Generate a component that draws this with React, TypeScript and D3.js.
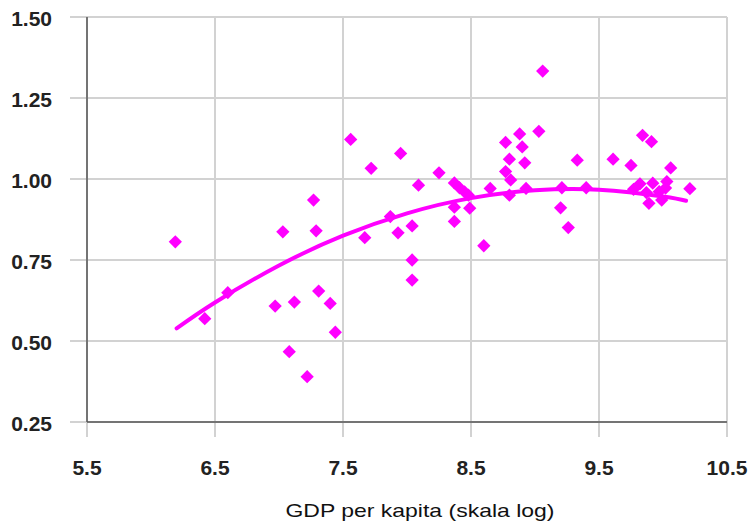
import React from "react";
import * as d3 from "d3";

const xTicks = [5.5, 6.5, 7.5, 8.5, 9.5, 10.5];
const yTicks = [0.25, 0.5, 0.75, 1.0, 1.25, 1.5];

const pointX = [
  6.19, 6.42, 6.6, 6.97, 7.03, 7.08, 7.12, 7.22, 7.27, 7.29, 7.31, 7.4, 7.44,
  7.56, 7.67, 7.72, 7.87, 7.93, 7.95, 8.04, 8.04, 8.04, 8.09, 8.25, 8.37, 8.41,
  8.45, 8.48, 8.37, 8.49, 8.37, 8.6, 8.65, 8.8, 8.77, 8.81, 8.8, 8.77, 8.88,
  8.9, 8.92, 8.93, 9.03, 9.06, 9.2, 9.21, 9.26, 9.33, 9.4, 9.61, 9.75, 9.84,
  9.91, 10.06, 10.21, 9.77, 9.82, 9.87, 9.89, 9.92, 9.97, 9.99, 10.02, 10.03,
];
const pointY = [
  0.806, 0.569, 0.649, 0.608, 0.837, 0.467, 0.62, 0.39, 0.935, 0.84, 0.654,
  0.616, 0.527, 1.122, 0.819, 1.033, 0.884, 0.834, 1.079, 0.855, 0.75, 0.688,
  0.981, 1.019, 0.988, 0.973, 0.96, 0.95, 0.913, 0.91, 0.869, 0.794, 0.971,
  0.95, 1.023, 0.997, 1.061, 1.113, 1.139, 1.099, 1.05, 0.971, 1.147, 1.333,
  0.911, 0.973, 0.85, 1.058, 0.973, 1.061, 1.042, 1.135, 1.115, 1.034, 0.97,
  0.968, 0.985, 0.958, 0.925, 0.987, 0.961, 0.935, 0.972, 0.992,
];

const trendX = [6.2, 6.5, 7.0, 7.5, 8.0, 8.5, 9.0, 9.5, 10.0, 10.18];
const trendY = [0.539, 0.619, 0.733, 0.825, 0.894, 0.941, 0.965, 0.967, 0.946, 0.933];

const xTitle = "GDP per kapita (skala log)";

export default function App() {
  const W = 752;
  const H = 523;
  const x = d3.scaleLinear().domain([5.5, 10.5]).range([87, 727]);
  const y = d3.scaleLinear().domain([0.25, 1.5]).range([422, 17]);
  const fmtY = d3.format(".2f");
  const fmtX = d3.format(".1f");
  const magenta = "#ff00ff";

  const line = d3
    .line<number>()
    .x((d, i) => x(trendX[i]))
    .y((d) => y(d))
    .curve(d3.curveNatural);

  const diamond = d3.symbol().type(d3.symbolSquare).size(88)();

  return (
    <svg
      width={W}
      height={H}
      style={{ position: "absolute", left: 0, top: 0, background: "#fff" }}
    >
      {/* horizontal grid */}
      {yTicks.map((t) => (
        <line
          key={"h" + t}
          x1={70}
          x2={x(10.5)}
          y1={y(t)}
          y2={y(t)}
          stroke="#d2d2d2"
          strokeWidth={2}
        />
      ))}
      {/* vertical grid */}
      {xTicks.map((t) => (
        <line
          key={"v" + t}
          x1={x(t)}
          x2={x(t)}
          y1={y(1.5)}
          y2={437}
          stroke="#d2d2d2"
          strokeWidth={2}
        />
      ))}
      {/* axes */}
      <line x1={x(5.5)} x2={x(5.5)} y1={y(1.5)} y2={y(0.25)} stroke="#555" strokeWidth={1.5} />
      <line x1={x(5.5)} x2={x(10.5)} y1={y(0.25)} y2={y(0.25)} stroke="#555" strokeWidth={1.5} />

      {/* y tick labels */}
      {yTicks.map((t) => (
        <text
          key={"yl" + t}
          x={52}
          y={y(t) + 9}
          textAnchor="end"
          fontFamily="Liberation Sans, Arial, sans-serif"
          fontWeight="bold"
          fontSize={21}
          fill="#222"
        >
          {fmtY(t)}
        </text>
      ))}
      {/* x tick labels */}
      {xTicks.map((t) => (
        <text
          key={"xl" + t}
          x={x(t)}
          y={475}
          textAnchor="middle"
          fontFamily="Liberation Sans, Arial, sans-serif"
          fontWeight="bold"
          fontSize={21}
          fill="#222"
        >
          {fmtX(t)}
        </text>
      ))}
      {/* x title */}
      <text
        x={420}
        y={517}
        textAnchor="middle"
        fontFamily="Liberation Sans, Arial, sans-serif"
        fontSize={19}
        textLength={269}
        lengthAdjust="spacingAndGlyphs"
        fill="#111"
      >
        {xTitle}
      </text>

      {/* trend line */}
      <path
        d={line(trendY) || ""}
        fill="none"
        stroke={magenta}
        strokeWidth={4}
        strokeLinecap="round"
      />

      {/* points */}
      {pointX.map((px, i) => (
        <path
          key={"p" + i}
          d={diamond || ""}
          transform={`translate(${x(px)},${y(pointY[i])}) rotate(45)`}
          fill={magenta}
        />
      ))}
    </svg>
  );
}
